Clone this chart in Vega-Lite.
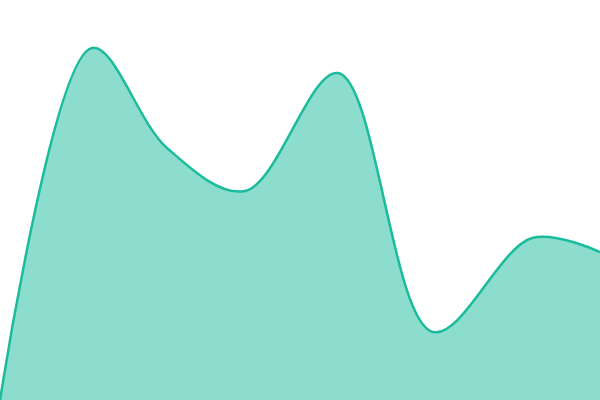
{
  "$schema": "https://vega.github.io/schema/vega-lite/v6.json",
  "width": 600,
  "height": 400,
  "autosize": "none",
  "padding": 0,
  "background": "white",
  "config": {"view": {"stroke": null}},
  "data": {
    "values": [
      {"x": 0, "y": 0},
      {"x": 92, "y": 352},
      {"x": 167, "y": 252},
      {"x": 245, "y": 209},
      {"x": 338, "y": 327},
      {"x": 433, "y": 68},
      {"x": 532, "y": 162},
      {"x": 600, "y": 148}
    ]
  },
  "encoding": {
    "x": {"field": "x", "type": "quantitative", "axis": null, "scale": {"domain": [0, 600], "nice": false}},
    "y": {"field": "y", "type": "quantitative", "axis": null, "scale": {"domain": [0, 400], "nice": false}}
  },
  "layer": [
    {"mark": {"type": "area", "interpolate": "catmull-rom", "color": "#1abc9c", "opacity": 0.5}},
    {"mark": {"type": "line", "interpolate": "catmull-rom", "color": "#1abc9c", "strokeWidth": 2.5}}
  ]
}
